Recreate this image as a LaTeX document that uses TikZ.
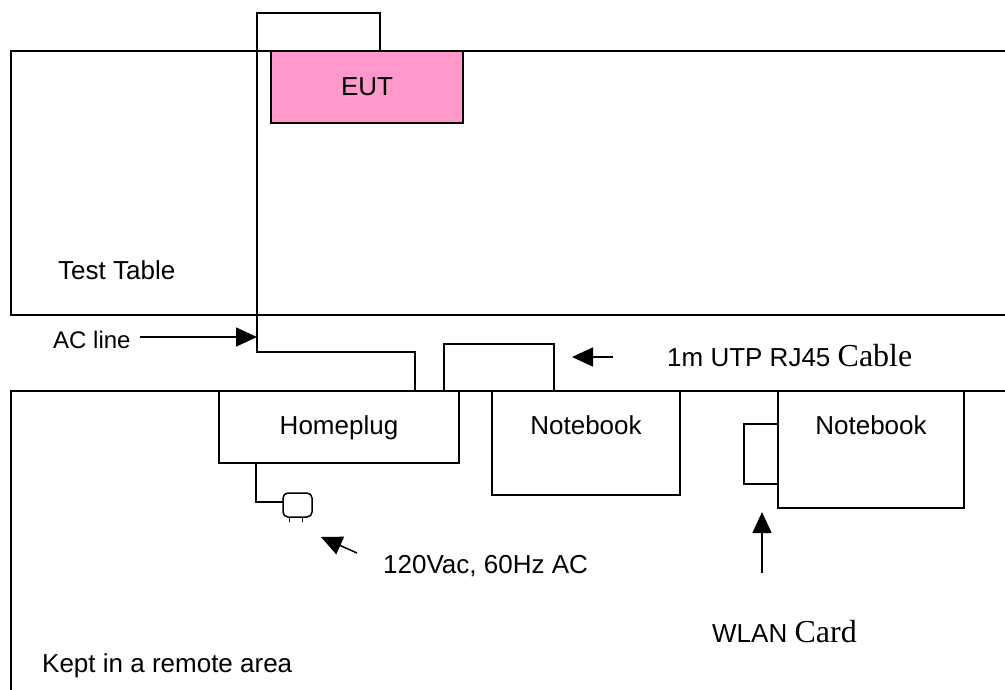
\documentclass[tikz,border=0pt]{standalone}
\usepackage{fontspec}
\setmainfont{Liberation Sans}
\newfontfamily\timesfont{Liberation Serif}
\usetikzlibrary{arrows.meta}
\definecolor{eutpink}{HTML}{FF99CC}
\tikzset{
    wire/.style={line width=1.5pt},
    pointer/.style={line width=1.5pt,-{Triangle[length=21pt,width=19pt]}},
    lbl/.style={font=\fontsize{26}{30}\selectfont,inner sep=0pt},
}
\newcommand{\serifbig}{\timesfont\fontsize{32}{36}\selectfont}
\begin{document}
\begin{tikzpicture}[x=1pt,y=-1pt]
    \useasboundingbox (0,0) rectangle (1005,689);
    \clip (0,0) rectangle (1005,689);
    % test table and remote area
    \coordinate (TA) at (11,51);
    \coordinate (TB) at (1020,315);
    \coordinate (FA) at (11,391);
    \coordinate (FB) at (1020,700);
    \draw[wire] (TA) rectangle (TB);
    \draw[wire] (FA) rectangle (FB);
    % EUT
    \coordinate (EA) at (271,51);
    \coordinate (EB) at (463,123);
    \draw[wire,fill=eutpink] (EA) rectangle (EB);
    % AC line from the EUT down to the homeplug
    \coordinate (W0) at (380,51);
    \coordinate (W1) at (380,13);
    \coordinate (W2) at (257,13);
    \coordinate (W3) at (257,352);
    \coordinate (W4) at (415,352);
    \coordinate (W5) at (415,391);
    \draw[wire] (W0)--(W1)--(W2)--(W3)--(W4)--(W5);
    % homeplug, notebooks, cable, card
    \draw[wire] (219,391) rectangle (459,463);
    \draw[wire] (492,391) rectangle (680,495);
    \draw[wire] (778,391) rectangle (964,508);
    \draw[wire] (444,344) rectangle (554,391);
    \draw[wire] (744,424) rectangle (778,484);
    % mains plug
    \coordinate (P0) at (256,463);
    \coordinate (P1) at (256,502);
    \coordinate (P2) at (283,502);
    \draw[wire] (P0)--(P1)--(P2);
    \draw[wire,rounded corners=5pt] (283,493) rectangle (312,517);
    \draw[line width=1pt] (289,517)--(289,522) (302,517)--(302,522);
    % labels
    \node[lbl,anchor=base] (eut) at (367,95) {EUT};
    \node[lbl,anchor=base west] (table) at (58,279) {Test Table};
    \node[lbl,anchor=base west,font=\fontsize{24}{28}\selectfont] (acline) at (53,348) {AC line};
    \node[lbl,anchor=base] (hplug) at (339,434) {Homeplug};
    \node[lbl,anchor=base] (nbA) at (586,434) {Notebook};
    \node[lbl,anchor=base] (nbB) at (871,434) {Notebook};
    \node[lbl,anchor=base west] (utp) at (667,366) {1m UTP RJ45 {\serifbig Cable}};
    \node[lbl,anchor=base west] (mains) at (383,573) {120Vac, 60Hz AC};
    \node[lbl,anchor=base west] (wlan) at (712,642) {WLAN {\serifbig Card}};
    \node[lbl,anchor=base west] (remote) at (42,672) {Kept in a remote area};
    % pointers
    \coordinate (acT) at (140,337);
    \coordinate (acH) at (257,337);
    \coordinate (utpT) at (613,357);
    \coordinate (utpH) at (572,357);
    \coordinate (plT) at (357,553);
    \coordinate (plH) at (321,537);
    \coordinate (wlT) at (762,573);
    \coordinate (wlH) at (762,512);
    \draw[pointer] (acT)--(acH);
    \draw[pointer] (utpT)--(utpH);
    \draw[pointer] (plT)--(plH);
    \draw[pointer] (wlT)--(wlH);
\end{tikzpicture}
\end{document}
